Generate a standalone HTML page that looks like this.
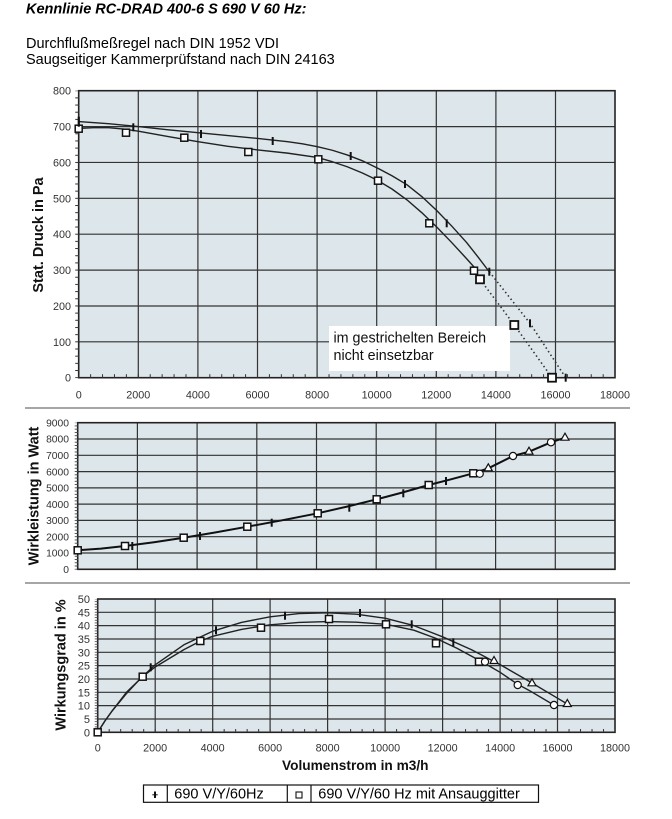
<!DOCTYPE html>
<html><head><meta charset="utf-8"><style>
html,body{margin:0;padding:0;background:#fff;}
svg{display:block;}
text{font-family:"Liberation Sans",Arial,sans-serif;}
</style></head><body>
<svg width="672" height="819" viewBox="0 0 672 819" xmlns="http://www.w3.org/2000/svg">
<defs>
<pattern id="mxT" patternUnits="userSpaceOnUse" x="78.2" y="0" width="11.92" height="819"><rect x="0" y="0" width="1" height="819" fill="#333"/></pattern>
<pattern id="myT" patternUnits="userSpaceOnUse" x="0" y="90.2" width="672" height="7.175"><rect x="0" y="0" width="672" height="1" fill="#333"/></pattern>
<pattern id="myM" patternUnits="userSpaceOnUse" x="0" y="422.2" width="672" height="3.258"><rect x="0" y="0" width="672" height="0.9" fill="#444"/></pattern>
<pattern id="myB" patternUnits="userSpaceOnUse" x="0" y="598.5" width="672" height="2.667"><rect x="0" y="0" width="672" height="0.8" fill="#444"/></pattern>
<pattern id="mxB" patternUnits="userSpaceOnUse" x="97.2" y="0" width="11.496" height="819"><rect x="0" y="0" width="1" height="819" fill="#333"/></pattern>
</defs>

<!-- Header text -->
<text x="26" y="13.5" font-size="14.5" font-weight="bold" font-style="italic" fill="#000">Kennlinie RC-DRAD 400-6 S 690 V 60 Hz:</text>
<text x="26" y="48" font-size="14.5" fill="#000">Durchflußmeßregel nach DIN 1952 VDI</text>
<text x="26" y="64" font-size="14.5" fill="#000">Saugseitiger Kammerprüfstand nach DIN 24163</text>

<!-- ============ TOP CHART ============ -->
<rect x="78.7" y="90.7" width="536.3" height="287" fill="#dde6ea"/>
<path d="M138.3,90.7V377.7M197.9,90.7V377.7M257.5,90.7V377.7M317.1,90.7V377.7M376.7,90.7V377.7M436.3,90.7V377.7M495.9,90.7V377.7M555.5,90.7V377.7
M78.7,341.8H615M78.7,306H615M78.7,270.1H615M78.7,234.2H615M78.7,198.3H615M78.7,162.45H615M78.7,126.6H615" stroke="#333" stroke-width="1.2" fill="none"/>
<rect x="329" y="326" width="181" height="45" fill="#fff"/>
<text x="333.5" y="342.3" font-size="14.3" fill="#111">im gestrichelten Bereich</text>
<text x="333.5" y="360" font-size="14.3" fill="#111">nicht einsetzbar</text>
<rect x="78.7" y="90.7" width="536.3" height="287" fill="none" stroke="#222" stroke-width="1.6"/>
<!-- minor ticks -->
<rect x="78.7" y="374.2" width="536.3" height="3.5" fill="url(#mxT)"/>
<rect x="75.2" y="90.7" width="4" height="287.5" fill="url(#myT)"/>
<!-- y labels -->
<g font-size="10.8" fill="#333" text-anchor="end">
<text x="71" y="94.7">800</text><text x="71" y="130.6">700</text><text x="71" y="166.45">600</text>
<text x="71" y="202.3">500</text><text x="71" y="238.2">400</text><text x="71" y="274.1">300</text>
<text x="71" y="310">200</text><text x="71" y="345.8">100</text><text x="71" y="381.7">0</text>
</g>
<g font-size="10.8" fill="#333" text-anchor="middle">
<text x="78.7" y="398.3">0</text><text x="138.3" y="398.3">2000</text><text x="197.9" y="398.3">4000</text>
<text x="257.5" y="398.3">6000</text><text x="317.1" y="398.3">8000</text><text x="376.7" y="398.3">10000</text>
<text x="436.3" y="398.3">12000</text><text x="495.9" y="398.3">14000</text><text x="555.5" y="398.3">16000</text>
<text x="615" y="398.3">18000</text>
</g>
<text transform="translate(43,235) rotate(-90)" text-anchor="middle" font-size="14.5" font-weight="bold" fill="#111">Stat. Druck in Pa</text>
<!-- curves -->
<path d="M78.7,121.55 L108.53,123.71 L138.37,126.57 L168.2,129.8 L198.03,132.67 L227.87,135.54 L257.7,138.41 L287.53,141.64 L302.45,143.8 L317.36,146.66 L332.28,150.25 L347.2,154.92 L362.11,160.66 L377.03,167.83 L391.95,175.72 L406.86,184.7 L421.78,196.53 L436.7,210.52 L451.61,225.95 L466.53,242.45 L478.46,257.52 L489.32,271.87" stroke="#222" stroke-width="1.4" fill="none" stroke-linejoin="round"/>
<path d="M78.7,128.37 L93.62,127.65 L108.53,127.65 L123.45,129.09 L138.37,131.24 L168.2,136.62 L198.03,141.64 L227.87,146.31 L257.7,149.89 L287.53,153.12 L317.36,157.43 L332.28,161.73 L347.2,166.75 L362.11,172.85 L377.03,180.03 L391.95,189 L406.86,199.76 L421.78,212.67 L436.7,227.02 L451.61,242.45 L466.53,258.59 L475.48,268.64" stroke="#222" stroke-width="1.4" fill="none" stroke-linejoin="round"/>
<path d="M489.3,271.7 L530,323.3 L565.7,377.7" stroke="#333" stroke-width="1.6" fill="none" stroke-dasharray="1.5 2.8"/>
<path d="M480,279.3 L514.3,325 L552,377.7" stroke="#333" stroke-width="1.6" fill="none" stroke-dasharray="1.5 2.8"/>
<!-- markers top -->
<g fill="#fff" stroke="#111" stroke-width="1.5">
<rect x="75.2" y="125.2" width="7" height="7"/>
<rect x="122.5" y="129.2" width="7" height="7"/>
<rect x="180.8" y="134.2" width="7" height="7"/>
<rect x="244.8" y="148.5" width="7" height="7"/>
<rect x="314.8" y="155.8" width="7" height="7"/>
<rect x="374.5" y="177.2" width="7" height="7"/>
<rect x="425.8" y="219.8" width="7" height="7"/>
<rect x="470.5" y="267.2" width="7" height="7"/>
<rect x="476" y="275.3" width="8" height="8" stroke-width="1.8"/>
<rect x="510.3" y="321" width="8" height="8" stroke-width="1.8"/>
<rect x="548" y="373.7" width="8" height="8" stroke-width="1.8"/>
</g>
<g fill="#111">
<rect x="77.7" y="116.7" width="2.2" height="10"/>
<rect x="132.3" y="123.3" width="2" height="8"/>
<rect x="200" y="130" width="2" height="8"/>
<rect x="271.7" y="137" width="2" height="8"/>
<rect x="349.7" y="152" width="2" height="8"/>
<rect x="404" y="180" width="2" height="8"/>
<rect x="445.7" y="219.3" width="2" height="8"/>
<rect x="488.3" y="267.7" width="2" height="8"/>
<rect x="529" y="319.3" width="2" height="8"/>
<rect x="564.7" y="373.7" width="2" height="8"/>
</g>

<!-- separator -->
<line x1="25" y1="408" x2="630" y2="408" stroke="#888" stroke-width="1.5"/>

<!-- ============ MIDDLE CHART ============ -->
<rect x="77.7" y="422.7" width="537.3" height="146.6" fill="#dde6ea"/>
<path d="M137.4,422.7V569.3M197.1,422.7V569.3M256.8,422.7V569.3M316.5,422.7V569.3M376.2,422.7V569.3M435.9,422.7V569.3M495.6,422.7V569.3M555.3,422.7V569.3
M77.7,553H615M77.7,536.7H615M77.7,520.4H615M77.7,504.1H615M77.7,487.9H615M77.7,471.6H615M77.7,455.3H615M77.7,439H615" stroke="#333" stroke-width="1.2" fill="none"/>
<rect x="77.7" y="422.7" width="537.3" height="146.6" fill="none" stroke="#222" stroke-width="1.6"/>
<rect x="74.7" y="422.7" width="3.5" height="147" fill="url(#myM)"/>
<g font-size="10.3" fill="#333" text-anchor="end">
<text x="69" y="426.4">9000</text><text x="69" y="442.7">8000</text><text x="69" y="459">7000</text>
<text x="69" y="475.3">6000</text><text x="69" y="491.6">5000</text><text x="69" y="507.9">4000</text>
<text x="69" y="524.1">3000</text><text x="69" y="540.4">2000</text><text x="69" y="556.7">1000</text>
<text x="69" y="573">0</text>
</g>
<text transform="translate(38.7,496) rotate(-90)" text-anchor="middle" font-size="14.5" font-weight="bold" fill="#111">Wirkleistung in Watt</text>
<path d="M77.7,550.3 L101,548.6 L125,546 L154,542.2 L183.7,537.7 L215,532.5 L247.3,526.7 L282,520.3 L317.7,513.3 L347,506.6 L376.7,499.3 L402,492.6 L428.7,485 L451,479.3 L473.3,473.3 L488.3,468.3 L513,456 L529,451.7 L551,442.3 L565,437.7" stroke="#111" stroke-width="2" fill="none" stroke-linejoin="round"/>
<g fill="#fff" stroke="#111" stroke-width="1.5">
<rect x="74.2" y="546.8" width="7" height="7"/>
<rect x="121.5" y="542.5" width="7" height="7"/>
<rect x="180.2" y="534.2" width="7" height="7"/>
<rect x="243.8" y="523.2" width="7" height="7"/>
<rect x="314.2" y="509.8" width="7" height="7"/>
<rect x="373.2" y="495.8" width="7" height="7"/>
<rect x="425.2" y="481.5" width="7" height="7"/>
<rect x="469.8" y="469.8" width="7" height="7"/>
<circle cx="479.7" cy="473.7" r="3.6" stroke-width="1.2"/>
<circle cx="513" cy="456" r="3.6" stroke-width="1.2"/>
<circle cx="551" cy="442.3" r="3.6" stroke-width="1.2"/>
<polygon points="488.3,463.8 484.3,470.8 492.3,470.8" stroke-width="1.2"/>
<polygon points="529,447.2 525,454.2 533,454.2" stroke-width="1.2"/>
<polygon points="565,433.2 561,440.2 569,440.2" stroke-width="1.2"/>
</g>
<g fill="#111">
<rect x="131.3" y="542" width="2" height="8"/>
<rect x="199" y="532" width="2" height="8"/>
<rect x="270.7" y="518.7" width="2" height="8"/>
<rect x="348.3" y="503.7" width="2" height="8"/>
<rect x="402.3" y="489.3" width="2" height="8"/>
<rect x="445" y="477" width="2" height="8"/>
</g>

<!-- separator -->
<line x1="25" y1="583" x2="630" y2="583" stroke="#888" stroke-width="1.5"/>

<!-- ============ BOTTOM CHART ============ -->
<rect x="97.7" y="599" width="517.3" height="133.3" fill="#dde6ea"/>
<path d="M155.2,599V732.3M212.7,599V732.3M270.1,599V732.3M327.6,599V732.3M385.1,599V732.3M442.6,599V732.3M500.1,599V732.3M557.5,599V732.3
M97.7,719H615M97.7,705.6H615M97.7,692.3H615M97.7,679H615M97.7,665.6H615M97.7,652.3H615M97.7,639H615M97.7,625.6H615M97.7,612.3H615" stroke="#333" stroke-width="1.2" fill="none"/>
<rect x="97.7" y="599" width="517.3" height="133.3" fill="none" stroke="#222" stroke-width="1.6"/>
<rect x="97.7" y="729" width="517.3" height="3.3" fill="url(#mxB)"/>
<rect x="94.7" y="599" width="3.5" height="133.8" fill="url(#myB)"/>
<g font-size="11" fill="#333" text-anchor="end">
<text x="90" y="603">50</text><text x="90" y="616.3">45</text><text x="90" y="629.6">40</text>
<text x="90" y="643">35</text><text x="90" y="656.3">30</text><text x="90" y="669.6">25</text>
<text x="90" y="683">20</text><text x="90" y="696.3">15</text><text x="90" y="709.6">10</text>
<text x="90" y="723">5</text><text x="90" y="736.3">0</text>
</g>
<g font-size="10.8" fill="#333" text-anchor="middle">
<text x="97.7" y="751.7">0</text><text x="155.2" y="751.7">2000</text><text x="212.7" y="751.7">4000</text>
<text x="270.1" y="751.7">6000</text><text x="327.6" y="751.7">8000</text><text x="385.1" y="751.7">10000</text>
<text x="442.6" y="751.7">12000</text><text x="500.1" y="751.7">14000</text><text x="557.5" y="751.7">16000</text>
<text x="615" y="751.7">18000</text>
</g>
<text transform="translate(65.4,665) rotate(-90)" text-anchor="middle" font-size="14.5" font-weight="bold" fill="#111">Wirkungsgrad in %</text>
<text x="282" y="770" font-size="13.7" font-weight="bold" fill="#111">Volumenstrom in m3/h</text>
<path d="M97.7,732.3 L104.9,721 L112.07,711 L126.44,693.6 L140.81,678.2 L155.18,664.8 L183.92,644.8 L212.66,631.2 L241.4,622.4 L270.13,616.8 L298.87,613.6 L327.61,612.8 L356.35,614.2 L385.09,618.2 L413.83,625.6 L442.57,636.8 L471.31,649.6 L500.05,664.6 L528.79,681.1 L557.52,698.2 L567.3,704" stroke="#222" stroke-width="1.4" fill="none" stroke-linejoin="round"/>
<path d="M97.7,732.3 L104.9,721 L112.07,711 L126.44,692.3 L142.7,676.6 L155.18,667 L183.92,649.6 L200.3,641.1 L212.66,636.3 L241.4,629.4 L270.13,624.8 L298.87,622.4 L327.61,621.6 L356.35,622.2 L386,624.3 L413.83,630.2 L436,638.4 L456.94,648.3 L479,660.3 L485,663.5 L500.05,672.3 L517.7,684.3 L528.79,690.2 L554,705.1" stroke="#222" stroke-width="1.4" fill="none" stroke-linejoin="round"/>
<g fill="#fff" stroke="#111" stroke-width="1.5">
<rect x="94.2" y="728.8" width="7" height="7"/>
<rect x="139.2" y="673.2" width="7" height="7"/>
<rect x="196.8" y="637.5" width="7" height="7"/>
<rect x="257.5" y="624.2" width="7" height="7"/>
<rect x="325.5" y="615.5" width="7" height="7"/>
<rect x="382.5" y="620.8" width="7" height="7"/>
<rect x="432.5" y="639.8" width="7" height="7"/>
<rect x="475.5" y="658.2" width="7" height="7"/>
<circle cx="485" cy="661.7" r="3.6" stroke-width="1.2"/>
<circle cx="517.7" cy="685" r="3.6" stroke-width="1.2"/>
<circle cx="554" cy="705" r="3.6" stroke-width="1.2"/>
<polygon points="494,656.5 490,663.5 498,663.5" stroke-width="1.2"/>
<polygon points="532,678.8 528,685.8 536,685.8" stroke-width="1.2"/>
<polygon points="567.3,699.5 563.3,706.5 571.3,706.5" stroke-width="1.2"/>
</g>
<g fill="#111">
<rect x="149.7" y="663.3" width="2" height="8"/>
<rect x="215" y="626.3" width="2" height="8"/>
<rect x="284" y="611.7" width="2" height="8"/>
<rect x="359" y="609" width="2" height="8"/>
<rect x="410.7" y="620.3" width="2" height="8"/>
<rect x="452.3" y="638.3" width="2" height="8"/>
</g>

<!-- Legend -->
<rect x="143.5" y="785" width="395" height="17.3" fill="#fff" stroke="#111" stroke-width="1.2"/>
<line x1="167.3" y1="785" x2="167.3" y2="802.3" stroke="#111" stroke-width="1.2"/>
<line x1="287.3" y1="785" x2="287.3" y2="802.3" stroke="#111" stroke-width="1.2"/>
<line x1="311" y1="785" x2="311" y2="802.3" stroke="#111" stroke-width="1.2"/>
<rect x="154" y="791.5" width="2" height="6.5" fill="#111"/>
<rect x="152.3" y="794.3" width="5.4" height="1" fill="#111"/>
<rect x="296" y="792" width="6" height="6" fill="#fff" stroke="#111" stroke-width="1.1"/>
<text x="174.3" y="798.5" font-size="14.5" fill="#000">690 V/Y/60Hz</text>
<text x="318.3" y="798.5" font-size="14.5" fill="#000">690 V/Y/60 Hz mit Ansauggitter</text>
</svg>
</body></html>
